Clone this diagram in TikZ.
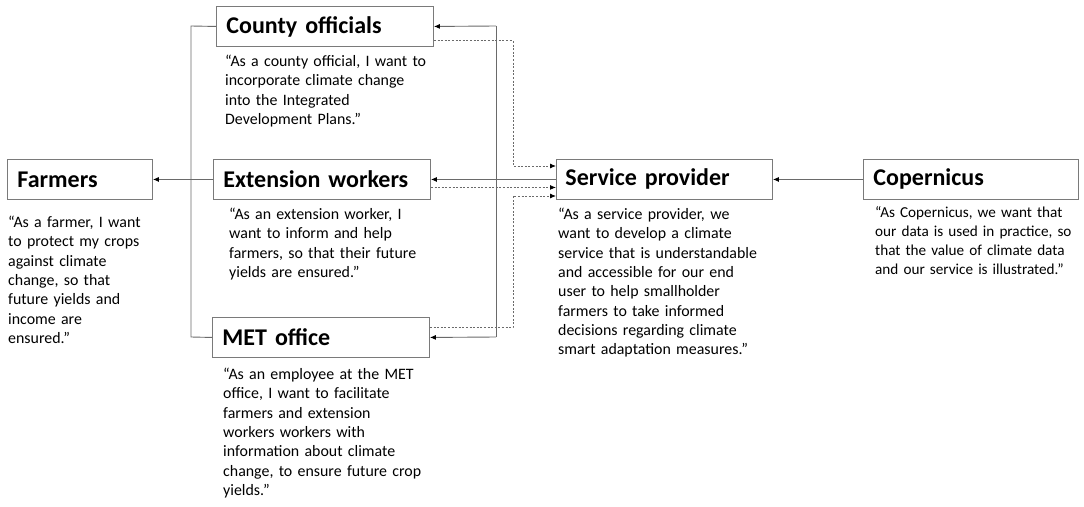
\documentclass[tikz,border=0pt]{standalone}
\usepackage{fontspec}
\setmainfont{Carlito}
\usetikzlibrary{arrows.meta}
\definecolor{framegray}{HTML}{7A7A7A}
\definecolor{linegray}{HTML}{6A6A6A}
\begin{document}
\begin{tikzpicture}[x=1pt,y=-1pt,
  box/.style={draw=framegray, line width=0.9pt, anchor=north west, minimum height=40pt,
    inner xsep=10pt, inner ysep=0pt, align=left, font=\fontsize{24}{27}\selectfont\bfseries},
  body/.style={anchor=base west, inner sep=0pt, align=left, text width=#1,
    font=\fontsize{15.9}{19.3}\selectfont},
  conn/.style={draw=linegray, line width=0.9pt},
  arr/.style={conn, -{Latex[length=6pt,width=5pt,fill=black,color=black]}},
  dotarr/.style={conn, dash pattern=on 2pt off 1.6pt, -{Latex[length=6pt,width=5pt,fill=black,color=black]}},
  dotconn/.style={conn, dash pattern=on 2pt off 1.6pt}
]
\useasboundingbox[fill=white] (0,0) rectangle (1084,506);

% boxes
\node[box, minimum width=217pt, text width=197pt] (county) at (216,6) {County officials};
\node[box, minimum width=217pt, text width=197pt] (ext) at (213,159) {Extension workers};
\node[box, minimum width=145pt, text width=125pt] (farmers) at (7,159) {Farmers};
\node[box, minimum width=217pt, text width=197pt] (met) at (212,317) {MET office};
\node[box, minimum width=216pt, text width=198pt, inner xsep=9pt] (sp) at (556,159) {Service provider};
\node[box, minimum width=215pt, text width=195pt] (cop) at (863,159) {Copernicus};

% body texts
\node[body=205pt] (countytxt) at (225,66.5) {“As a county official, I want to\\incorporate climate change\\into the Integrated\\Development Plans.”};
\node[body=205pt] (exttxt) at (229,219.5) {“As an extension worker, I\\want to inform and help\\farmers, so that their future\\yields are ensured.”};
\node[body=145pt] (farmerstxt) at (8,227.5) {“As a farmer, I want\\to protect my crops\\against climate\\change, so that\\future yields and\\income are\\ensured.”};
\node[body=215pt] (mettxt) at (223,379.5) {“As an employee at the MET\\office, I want to facilitate\\farmers and extension\\workers workers with\\information about climate\\change, to ensure future crop\\yields.”};
\node[body=215pt] (sptxt) at (558,219.5) {“As a service provider, we\\want to develop a climate\\service that is understandable\\and accessible for our end\\user to help smallholder\\farmers to take informed\\decisions regarding climate\\smart adaptation measures.”};
\node[body=205pt, font=\fontsize{15.2}{19}\selectfont] (coptxt) at (875,217.5) {“As Copernicus, we want that\\our data is used in practice, so\\that the value of climate data\\and our service is illustrated.”};

% left bracket to farmers
\coordinate (lbtop) at (191,26);
\coordinate (lbbot) at (191,337);
\draw[conn] (county.west) -- (lbtop) -- (lbbot) -- (met.west);
\draw[arr] (ext.west) -- (farmers.east);

% solid from service provider
\coordinate (rbtop) at (496,26);
\coordinate (rbbot) at (496,337);
\draw[arr] (sp.west) -- (ext.east);
\draw[conn] (rbtop) -- (rbbot);
\draw[arr] (rbtop) -- (county.east);
\draw[arr] (rbbot) -- (met.east);

% dotted to service provider
\coordinate (dk1) at (513,166);
\coordinate (dk2) at (513,196);
\draw[dotarr] ([yshift=6pt]county.south east) -| (dk1) -- (dk1 -| sp.west);
\draw[dotarr] ([yshift=-8pt]ext.east) -- ([yshift=-8pt]sp.west);
\draw[dotarr] ([yshift=10pt]met.east) -| (dk2) -- (dk2 -| sp.west);

% copernicus
\draw[arr] (cop.west) -- (sp.east);
\end{tikzpicture}
\end{document}
